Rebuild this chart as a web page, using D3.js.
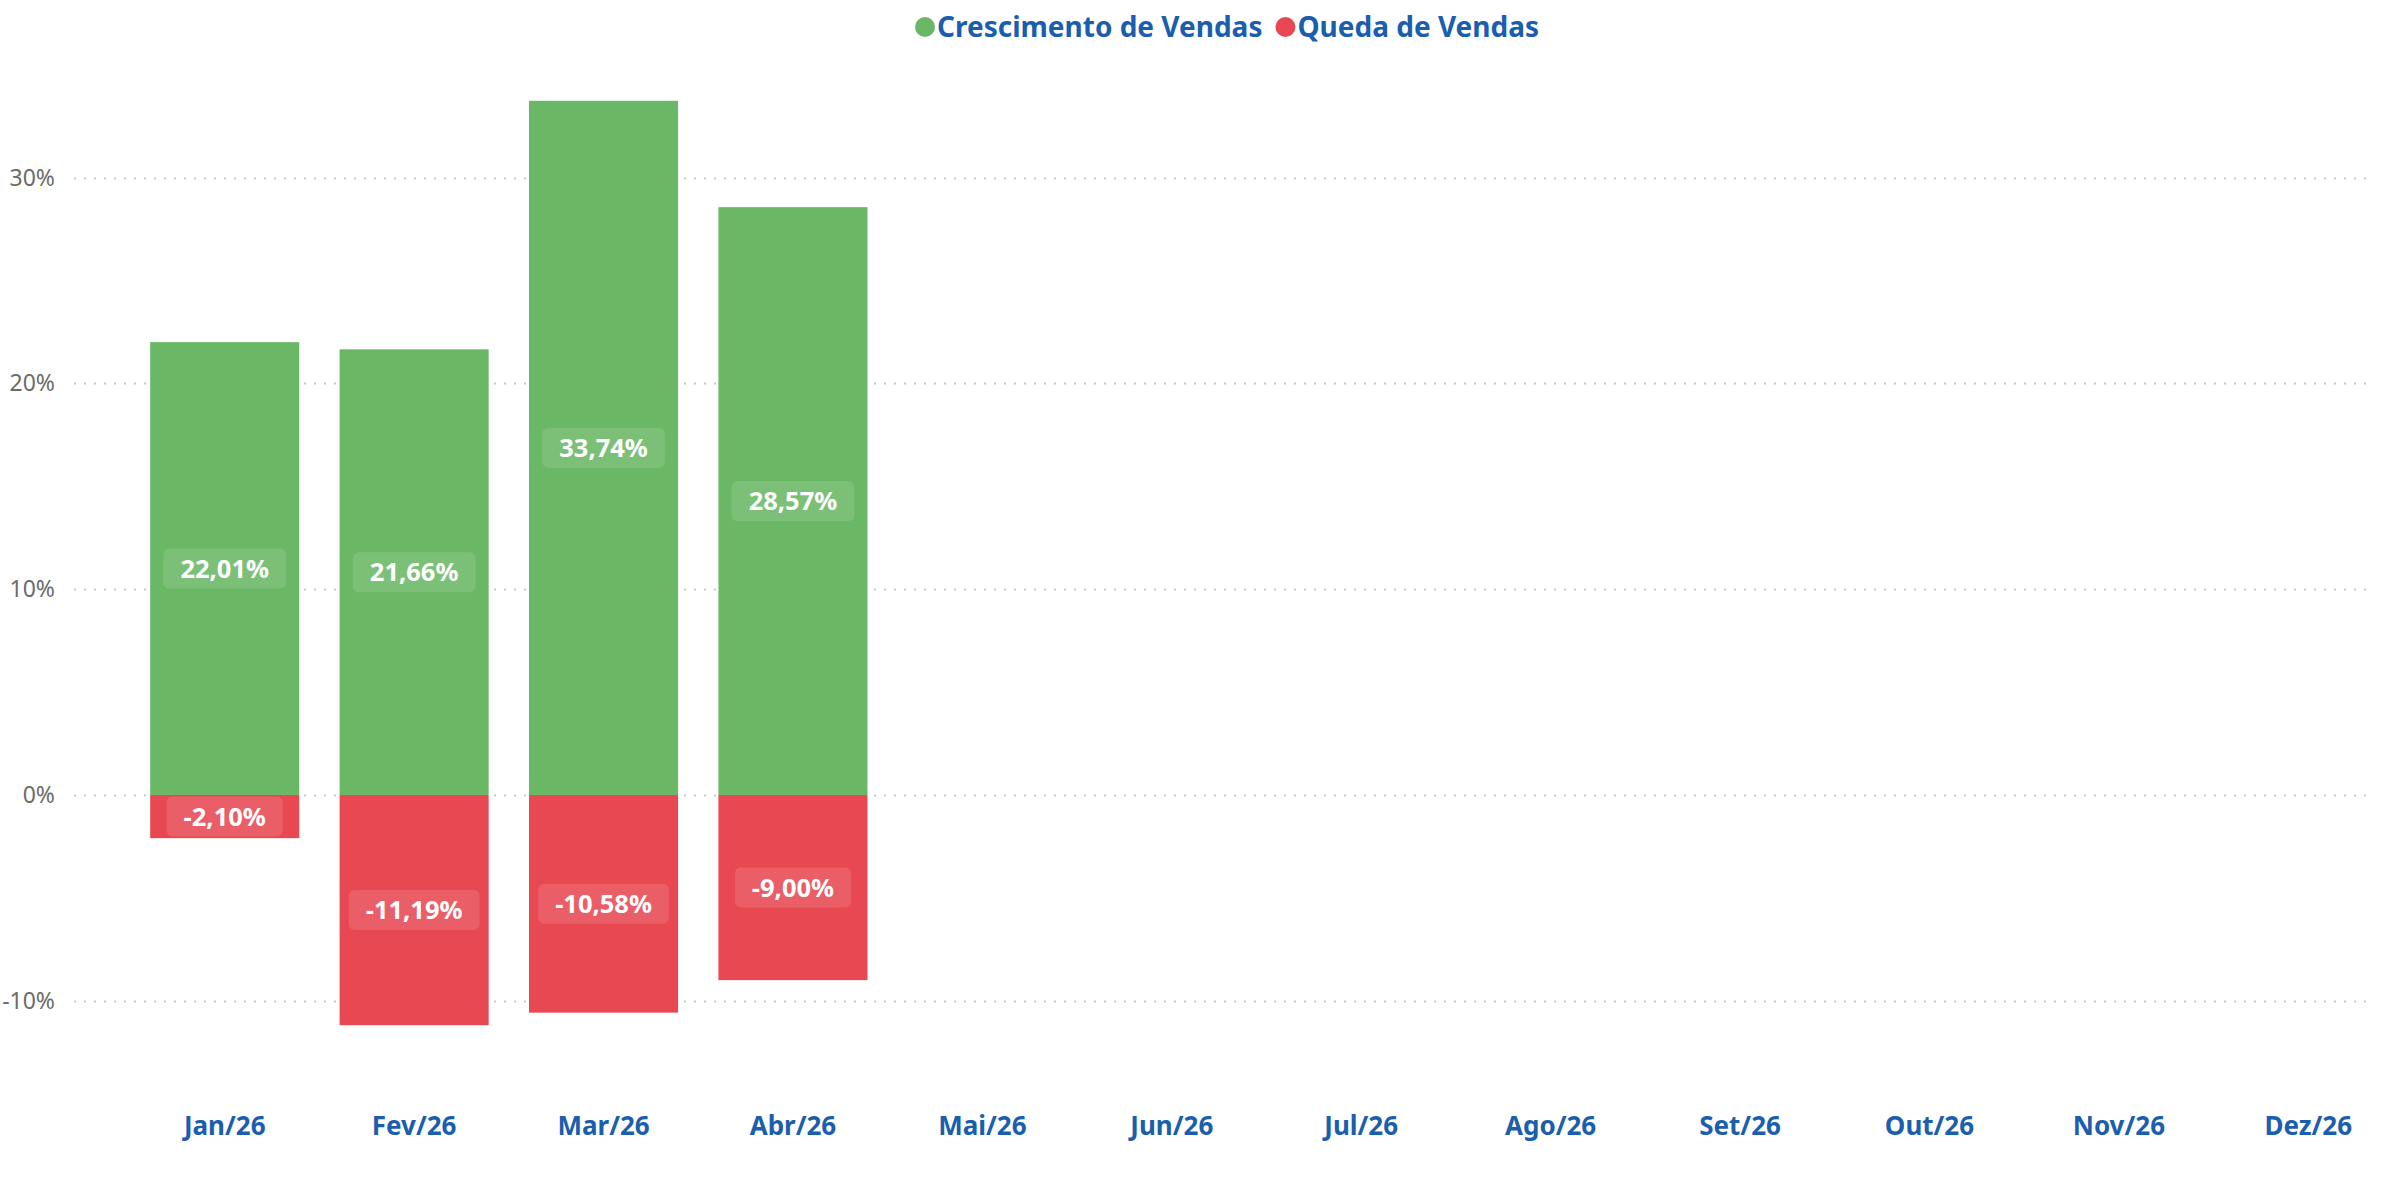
<!DOCTYPE html>
<html><head><meta charset="utf-8">
<script src="https://cdn.jsdelivr.net/npm/d3@7"></script>
<style>body{margin:0;background:#fff;font-family:"Noto Sans",sans-serif;}</style>
</head><body><svg id="c" width="2381" height="1183"></svg>
<script>
const months = ["Jan/26","Fev/26","Mar/26","Abr/26","Mai/26","Jun/26","Jul/26","Ago/26","Set/26","Out/26","Nov/26","Dez/26"];
const growth = [22.01, 21.66, 33.74, 28.57, null, null, null, null, null, null, null, null];
const decline = [-2.10, -11.19, -10.58, -9.00, null, null, null, null, null, null, null, null];
const yTicks = [-10, 0, 10, 20, 30];
const seriesNames = ["Crescimento de Vendas", "Queda de Vendas"];
const colors = ["#6AB865", "#E84852"];
const blue = "#1A5EAD";

const svg = d3.select("#c");
const y = d3.scaleLinear().domain([-14, 36]).range([1083, 54.3]);
const x = d3.scaleBand().domain(months).range([130, 2403]).paddingInner(0.213).paddingOuter(0.1065);

// gridlines
svg.append("g").selectAll("line").data(yTicks).join("line")
  .attr("x1", 74).attr("x2", 2370)
  .attr("y1", d => Math.round(y(d)) + 0.5).attr("y2", d => Math.round(y(d)) + 0.5)
  .attr("stroke", "#c8c8c8").attr("stroke-width", 2).attr("stroke-dasharray", "2 8");

// y axis
const yAxis = d3.axisLeft(y).tickValues(yTicks).tickSize(0).tickPadding(0).tickFormat(d => d + "%");
const ga = svg.append("g").attr("transform", "translate(55,0)").call(yAxis);
ga.select(".domain").remove();
ga.selectAll("text").attr("font-family", "Noto Sans").attr("font-size", 23).attr("fill", "#6b6b6b");

// x axis
const xAxis = d3.axisBottom(x).tickSize(0).tickPadding(0);
const gx = svg.append("g").attr("transform", "translate(0,1117)").call(xAxis);
gx.select(".domain").remove();
gx.selectAll("text").attr("font-family", "Noto Sans").attr("font-weight", "bold").attr("font-size", 26).attr("fill", blue).attr("dy", "0.71em");

const fmt = v => v.toFixed(2).replace(".", ",") + "%";

function drawSeries(vals, color) {
  const data = months.map((m, i) => ({m, v: vals[i]})).filter(d => d.v != null);
  svg.append("g").selectAll("rect").data(data).join("rect")
    .attr("x", d => x(d.m)).attr("width", x.bandwidth())
    .attr("y", d => y(Math.max(0, d.v))).attr("height", d => Math.abs(y(d.v) - y(0)))
    .attr("fill", color);
  const lg = svg.append("g").selectAll("g").data(data).join("g")
    .attr("transform", d => `translate(${x(d.m) + x.bandwidth()/2},${y(d.v/2)})`);
  lg.append("text").attr("text-anchor", "middle").attr("dy", "0.36em")
    .attr("font-family", "Noto Sans").attr("font-weight", "bold").attr("font-size", 25.5)
    .attr("fill", "#fff").text(d => fmt(d.v));
  lg.each(function() {
    const g = d3.select(this);
    const bb = g.select("text").node().getBBox();
    g.insert("rect", "text").attr("x", -bb.width/2 - 17).attr("y", -20).attr("width", bb.width + 34).attr("height", 40)
      .attr("rx", 6).attr("fill", "#fff").attr("fill-opacity", 0.12);
  });
}
drawSeries(growth, colors[0]);
drawSeries(decline, colors[1]);

// legend
const leg = svg.append("g").attr("transform", "translate(925,27)");
let cx = 0;
seriesNames.forEach((n, i) => {
  const g = leg.append("g").attr("transform", `translate(${cx},0)`);
  g.append("circle").attr("r", 10).attr("fill", colors[i]);
  const t = g.append("text").attr("x", 12).attr("dy", "0.36em").attr("font-family", "Noto Sans")
    .attr("font-weight", "bold").attr("font-size", 28).attr("fill", blue).text(n);
  cx += 12 + t.node().getComputedTextLength() + 23;
});
</script></body></html>
